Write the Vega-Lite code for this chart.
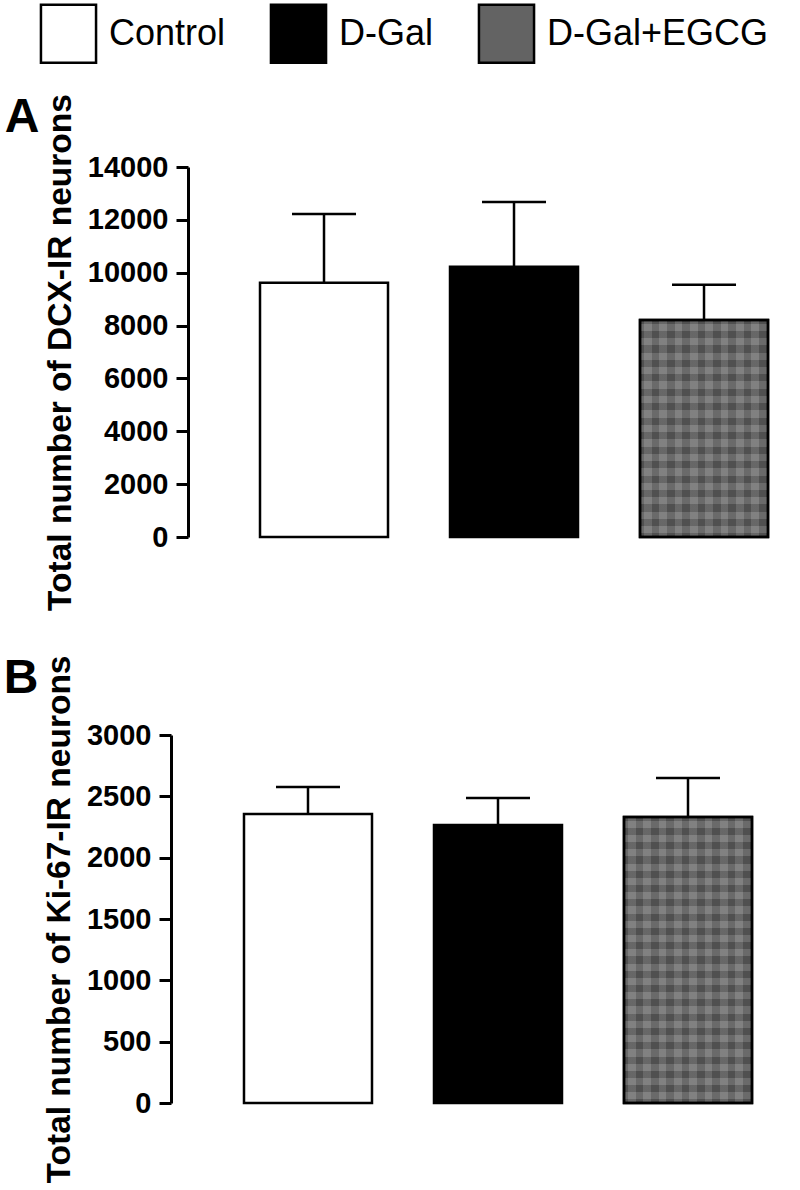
{
  "$schema": "https://vega.github.io/schema/vega-lite/v6.json",
  "padding": {"left": 3, "top": 3, "right": 0, "bottom": 0},
  "background": "white",
  "datasets": {
    "dcx": [
      {"group": "Control", "mean": 9620, "upper": 12220},
      {"group": "D-Gal", "mean": 10230, "upper": 12680},
      {"group": "D-Gal+EGCG", "mean": 8210, "upper": 9540}
    ],
    "ki67": [
      {"group": "Control", "mean": 2356, "upper": 2576},
      {"group": "D-Gal", "mean": 2266, "upper": 2486},
      {"group": "D-Gal+EGCG", "mean": 2331, "upper": 2649}
    ]
  },
  "spacing": 44,
  "vconcat": [
    {
      "width": 610,
      "height": 370,
      "title": {"text": "A", "orient": "left", "anchor": "end", "angle": 0, "frame": "bounds", "fontSize": 48, "fontWeight": "bold", "font": "Liberation Sans", "color": "black", "align": "left", "baseline": "top", "offset": 4},
      "data": {"name": "dcx"},
      "encoding": {
        "x": {"field": "group", "type": "nominal", "sort": null, "axis": null,
              "scale": {"domain": ["Control", "D-Gal", "D-Gal+EGCG"], "paddingInner": 0.3263, "paddingOuter": 0.2684, "align": 0.706}}
      },
      "layer": [
        {"mark": {"type": "rule", "strokeWidth": 2.5, "color": "black"},
         "encoding": {"y": {"field": "mean", "type": "quantitative"}, "y2": {"field": "upper"}}},
        {"mark": {"type": "tick", "size": 64, "thickness": 2.5, "color": "black", "opacity": 1},
         "encoding": {"y": {"field": "upper", "type": "quantitative"}}},
        {"mark": {"type": "bar", "stroke": "black", "strokeWidth": 2.5, "opacity": 1},
         "encoding": {
           "y": {"field": "mean", "type": "quantitative", "scale": {"domain": [0, 14000], "nice": false},
                 "axis": {"values": [0, 2000, 4000, 6000, 8000, 10000, 12000, 14000], "format": "d", "title": "Total number of DCX-IR neurons"}},
           "fill": {"field": "group", "type": "nominal", "sort": null,
                    "scale": {"domain": ["Control", "D-Gal", "D-Gal+EGCG"], "range": ["#ffffff", "#000000", "#636363"]},
                    "legend": {"title": null}}
         }},
        {"transform": [{"filter": "datum.group === 'D-Gal+EGCG'"}],
         "mark": {"type": "bar", "strokeWidth": 0, "opacity": 1, "fill": {"gradient": "linear", "x1": 0, "x2": 1, "y1": 0, "y2": 0, "stops": [
        {"offset": 0, "color": "rgba(0,0,0,0.1)"}, {"offset": 0.03, "color": "rgba(0,0,0,0.1)"},
        {"offset": 0.03, "color": "rgba(255,255,255,0.1)"}, {"offset": 0.09, "color": "rgba(255,255,255,0.1)"},
        {"offset": 0.09, "color": "rgba(0,0,0,0.1)"}, {"offset": 0.15, "color": "rgba(0,0,0,0.1)"},
        {"offset": 0.15, "color": "rgba(255,255,255,0.1)"}, {"offset": 0.21, "color": "rgba(255,255,255,0.1)"},
        {"offset": 0.21, "color": "rgba(0,0,0,0.1)"}, {"offset": 0.27, "color": "rgba(0,0,0,0.1)"},
        {"offset": 0.27, "color": "rgba(255,255,255,0.1)"}, {"offset": 0.33, "color": "rgba(255,255,255,0.1)"},
        {"offset": 0.33, "color": "rgba(0,0,0,0.1)"}, {"offset": 0.39, "color": "rgba(0,0,0,0.1)"},
        {"offset": 0.39, "color": "rgba(255,255,255,0.1)"}, {"offset": 0.45, "color": "rgba(255,255,255,0.1)"},
        {"offset": 0.45, "color": "rgba(0,0,0,0.1)"}, {"offset": 0.51, "color": "rgba(0,0,0,0.1)"},
        {"offset": 0.51, "color": "rgba(255,255,255,0.1)"}, {"offset": 0.57, "color": "rgba(255,255,255,0.1)"},
        {"offset": 0.57, "color": "rgba(0,0,0,0.1)"}, {"offset": 0.63, "color": "rgba(0,0,0,0.1)"},
        {"offset": 0.63, "color": "rgba(255,255,255,0.1)"}, {"offset": 0.69, "color": "rgba(255,255,255,0.1)"},
        {"offset": 0.69, "color": "rgba(0,0,0,0.1)"}, {"offset": 0.75, "color": "rgba(0,0,0,0.1)"},
        {"offset": 0.75, "color": "rgba(255,255,255,0.1)"}, {"offset": 0.81, "color": "rgba(255,255,255,0.1)"},
        {"offset": 0.81, "color": "rgba(0,0,0,0.1)"}, {"offset": 0.87, "color": "rgba(0,0,0,0.1)"},
        {"offset": 0.87, "color": "rgba(255,255,255,0.1)"}, {"offset": 0.93, "color": "rgba(255,255,255,0.1)"},
        {"offset": 0.93, "color": "rgba(0,0,0,0.1)"}, {"offset": 1, "color": "rgba(0,0,0,0.1)"}
      ]}},
         "encoding": {"y": {"field": "mean", "type": "quantitative"}}},
        {"transform": [{"filter": "datum.group === 'D-Gal+EGCG'"}],
         "mark": {"type": "bar", "stroke": "black", "strokeWidth": 2.5, "opacity": 1, "fill": {"gradient": "linear", "x1": 0, "x2": 0, "y1": 0, "y2": 1, "stops": [
        {"offset": 0, "color": "rgba(0,0,0,0.1)"}, {"offset": 0.0167, "color": "rgba(0,0,0,0.1)"},
        {"offset": 0.0167, "color": "rgba(255,255,255,0.1)"}, {"offset": 0.05, "color": "rgba(255,255,255,0.1)"},
        {"offset": 0.05, "color": "rgba(0,0,0,0.1)"}, {"offset": 0.0833, "color": "rgba(0,0,0,0.1)"},
        {"offset": 0.0833, "color": "rgba(255,255,255,0.1)"}, {"offset": 0.1167, "color": "rgba(255,255,255,0.1)"},
        {"offset": 0.1167, "color": "rgba(0,0,0,0.1)"}, {"offset": 0.15, "color": "rgba(0,0,0,0.1)"},
        {"offset": 0.15, "color": "rgba(255,255,255,0.1)"}, {"offset": 0.1833, "color": "rgba(255,255,255,0.1)"},
        {"offset": 0.1833, "color": "rgba(0,0,0,0.1)"}, {"offset": 0.2167, "color": "rgba(0,0,0,0.1)"},
        {"offset": 0.2167, "color": "rgba(255,255,255,0.1)"}, {"offset": 0.25, "color": "rgba(255,255,255,0.1)"},
        {"offset": 0.25, "color": "rgba(0,0,0,0.1)"}, {"offset": 0.2833, "color": "rgba(0,0,0,0.1)"},
        {"offset": 0.2833, "color": "rgba(255,255,255,0.1)"}, {"offset": 0.3167, "color": "rgba(255,255,255,0.1)"},
        {"offset": 0.3167, "color": "rgba(0,0,0,0.1)"}, {"offset": 0.35, "color": "rgba(0,0,0,0.1)"},
        {"offset": 0.35, "color": "rgba(255,255,255,0.1)"}, {"offset": 0.3833, "color": "rgba(255,255,255,0.1)"},
        {"offset": 0.3833, "color": "rgba(0,0,0,0.1)"}, {"offset": 0.4167, "color": "rgba(0,0,0,0.1)"},
        {"offset": 0.4167, "color": "rgba(255,255,255,0.1)"}, {"offset": 0.45, "color": "rgba(255,255,255,0.1)"},
        {"offset": 0.45, "color": "rgba(0,0,0,0.1)"}, {"offset": 0.4833, "color": "rgba(0,0,0,0.1)"},
        {"offset": 0.4833, "color": "rgba(255,255,255,0.1)"}, {"offset": 0.5167, "color": "rgba(255,255,255,0.1)"},
        {"offset": 0.5167, "color": "rgba(0,0,0,0.1)"}, {"offset": 0.55, "color": "rgba(0,0,0,0.1)"},
        {"offset": 0.55, "color": "rgba(255,255,255,0.1)"}, {"offset": 0.5833, "color": "rgba(255,255,255,0.1)"},
        {"offset": 0.5833, "color": "rgba(0,0,0,0.1)"}, {"offset": 0.6167, "color": "rgba(0,0,0,0.1)"},
        {"offset": 0.6167, "color": "rgba(255,255,255,0.1)"}, {"offset": 0.65, "color": "rgba(255,255,255,0.1)"},
        {"offset": 0.65, "color": "rgba(0,0,0,0.1)"}, {"offset": 0.6833, "color": "rgba(0,0,0,0.1)"},
        {"offset": 0.6833, "color": "rgba(255,255,255,0.1)"}, {"offset": 0.7167, "color": "rgba(255,255,255,0.1)"},
        {"offset": 0.7167, "color": "rgba(0,0,0,0.1)"}, {"offset": 0.75, "color": "rgba(0,0,0,0.1)"},
        {"offset": 0.75, "color": "rgba(255,255,255,0.1)"}, {"offset": 0.7833, "color": "rgba(255,255,255,0.1)"},
        {"offset": 0.7833, "color": "rgba(0,0,0,0.1)"}, {"offset": 0.8167, "color": "rgba(0,0,0,0.1)"},
        {"offset": 0.8167, "color": "rgba(255,255,255,0.1)"}, {"offset": 0.85, "color": "rgba(255,255,255,0.1)"},
        {"offset": 0.85, "color": "rgba(0,0,0,0.1)"}, {"offset": 0.8833, "color": "rgba(0,0,0,0.1)"},
        {"offset": 0.8833, "color": "rgba(255,255,255,0.1)"}, {"offset": 0.9167, "color": "rgba(255,255,255,0.1)"},
        {"offset": 0.9167, "color": "rgba(0,0,0,0.1)"}, {"offset": 0.95, "color": "rgba(0,0,0,0.1)"},
        {"offset": 0.95, "color": "rgba(255,255,255,0.1)"}, {"offset": 0.9833, "color": "rgba(255,255,255,0.1)"},
        {"offset": 0.9833, "color": "rgba(0,0,0,0.1)"}, {"offset": 1, "color": "rgba(0,0,0,0.1)"}
      ]}},
         "encoding": {"y": {"field": "mean", "type": "quantitative"}}}
      ]
    },
    {
      "width": 610,
      "height": 368,
      "title": {"text": "B", "orient": "left", "anchor": "end", "angle": 0, "frame": "bounds", "fontSize": 48, "fontWeight": "bold", "font": "Liberation Sans", "color": "black", "align": "left", "baseline": "top", "offset": 4},
      "data": {"name": "ki67"},
      "encoding": {
        "x": {"field": "group", "type": "nominal", "sort": null, "axis": null,
              "scale": {"domain": ["Control", "D-Gal", "D-Gal+EGCG"], "paddingInner": 0.3263, "paddingOuter": 0.2684, "align": 0.549}}
      },
      "layer": [
        {"mark": {"type": "rule", "strokeWidth": 2.5, "color": "black"},
         "encoding": {"y": {"field": "mean", "type": "quantitative"}, "y2": {"field": "upper"}}},
        {"mark": {"type": "tick", "size": 64, "thickness": 2.5, "color": "black", "opacity": 1},
         "encoding": {"y": {"field": "upper", "type": "quantitative"}}},
        {"mark": {"type": "bar", "stroke": "black", "strokeWidth": 2.5, "opacity": 1},
         "encoding": {
           "y": {"field": "mean", "type": "quantitative", "scale": {"domain": [0, 3000], "nice": false},
                 "axis": {"values": [0, 500, 1000, 1500, 2000, 2500, 3000], "format": "d", "offset": 17, "title": "Total number of Ki-67-IR neurons"}},
           "fill": {"field": "group", "type": "nominal", "sort": null,
                    "scale": {"domain": ["Control", "D-Gal", "D-Gal+EGCG"], "range": ["#ffffff", "#000000", "#636363"]},
                    "legend": {"title": null}}
         }},
        {"transform": [{"filter": "datum.group === 'D-Gal+EGCG'"}],
         "mark": {"type": "bar", "strokeWidth": 0, "opacity": 1, "fill": {"gradient": "linear", "x1": 0, "x2": 1, "y1": 0, "y2": 0, "stops": [
        {"offset": 0, "color": "rgba(0,0,0,0.1)"}, {"offset": 0.03, "color": "rgba(0,0,0,0.1)"},
        {"offset": 0.03, "color": "rgba(255,255,255,0.1)"}, {"offset": 0.09, "color": "rgba(255,255,255,0.1)"},
        {"offset": 0.09, "color": "rgba(0,0,0,0.1)"}, {"offset": 0.15, "color": "rgba(0,0,0,0.1)"},
        {"offset": 0.15, "color": "rgba(255,255,255,0.1)"}, {"offset": 0.21, "color": "rgba(255,255,255,0.1)"},
        {"offset": 0.21, "color": "rgba(0,0,0,0.1)"}, {"offset": 0.27, "color": "rgba(0,0,0,0.1)"},
        {"offset": 0.27, "color": "rgba(255,255,255,0.1)"}, {"offset": 0.33, "color": "rgba(255,255,255,0.1)"},
        {"offset": 0.33, "color": "rgba(0,0,0,0.1)"}, {"offset": 0.39, "color": "rgba(0,0,0,0.1)"},
        {"offset": 0.39, "color": "rgba(255,255,255,0.1)"}, {"offset": 0.45, "color": "rgba(255,255,255,0.1)"},
        {"offset": 0.45, "color": "rgba(0,0,0,0.1)"}, {"offset": 0.51, "color": "rgba(0,0,0,0.1)"},
        {"offset": 0.51, "color": "rgba(255,255,255,0.1)"}, {"offset": 0.57, "color": "rgba(255,255,255,0.1)"},
        {"offset": 0.57, "color": "rgba(0,0,0,0.1)"}, {"offset": 0.63, "color": "rgba(0,0,0,0.1)"},
        {"offset": 0.63, "color": "rgba(255,255,255,0.1)"}, {"offset": 0.69, "color": "rgba(255,255,255,0.1)"},
        {"offset": 0.69, "color": "rgba(0,0,0,0.1)"}, {"offset": 0.75, "color": "rgba(0,0,0,0.1)"},
        {"offset": 0.75, "color": "rgba(255,255,255,0.1)"}, {"offset": 0.81, "color": "rgba(255,255,255,0.1)"},
        {"offset": 0.81, "color": "rgba(0,0,0,0.1)"}, {"offset": 0.87, "color": "rgba(0,0,0,0.1)"},
        {"offset": 0.87, "color": "rgba(255,255,255,0.1)"}, {"offset": 0.93, "color": "rgba(255,255,255,0.1)"},
        {"offset": 0.93, "color": "rgba(0,0,0,0.1)"}, {"offset": 1, "color": "rgba(0,0,0,0.1)"}
      ]}},
         "encoding": {"y": {"field": "mean", "type": "quantitative"}}},
        {"transform": [{"filter": "datum.group === 'D-Gal+EGCG'"}],
         "mark": {"type": "bar", "stroke": "black", "strokeWidth": 2.5, "opacity": 1, "fill": {"gradient": "linear", "x1": 0, "x2": 0, "y1": 0, "y2": 1, "stops": [
        {"offset": 0, "color": "rgba(0,0,0,0.1)"}, {"offset": 0.0125, "color": "rgba(0,0,0,0.1)"},
        {"offset": 0.0125, "color": "rgba(255,255,255,0.1)"}, {"offset": 0.0375, "color": "rgba(255,255,255,0.1)"},
        {"offset": 0.0375, "color": "rgba(0,0,0,0.1)"}, {"offset": 0.0625, "color": "rgba(0,0,0,0.1)"},
        {"offset": 0.0625, "color": "rgba(255,255,255,0.1)"}, {"offset": 0.0875, "color": "rgba(255,255,255,0.1)"},
        {"offset": 0.0875, "color": "rgba(0,0,0,0.1)"}, {"offset": 0.1125, "color": "rgba(0,0,0,0.1)"},
        {"offset": 0.1125, "color": "rgba(255,255,255,0.1)"}, {"offset": 0.1375, "color": "rgba(255,255,255,0.1)"},
        {"offset": 0.1375, "color": "rgba(0,0,0,0.1)"}, {"offset": 0.1625, "color": "rgba(0,0,0,0.1)"},
        {"offset": 0.1625, "color": "rgba(255,255,255,0.1)"}, {"offset": 0.1875, "color": "rgba(255,255,255,0.1)"},
        {"offset": 0.1875, "color": "rgba(0,0,0,0.1)"}, {"offset": 0.2125, "color": "rgba(0,0,0,0.1)"},
        {"offset": 0.2125, "color": "rgba(255,255,255,0.1)"}, {"offset": 0.2375, "color": "rgba(255,255,255,0.1)"},
        {"offset": 0.2375, "color": "rgba(0,0,0,0.1)"}, {"offset": 0.2625, "color": "rgba(0,0,0,0.1)"},
        {"offset": 0.2625, "color": "rgba(255,255,255,0.1)"}, {"offset": 0.2875, "color": "rgba(255,255,255,0.1)"},
        {"offset": 0.2875, "color": "rgba(0,0,0,0.1)"}, {"offset": 0.3125, "color": "rgba(0,0,0,0.1)"},
        {"offset": 0.3125, "color": "rgba(255,255,255,0.1)"}, {"offset": 0.3375, "color": "rgba(255,255,255,0.1)"},
        {"offset": 0.3375, "color": "rgba(0,0,0,0.1)"}, {"offset": 0.3625, "color": "rgba(0,0,0,0.1)"},
        {"offset": 0.3625, "color": "rgba(255,255,255,0.1)"}, {"offset": 0.3875, "color": "rgba(255,255,255,0.1)"},
        {"offset": 0.3875, "color": "rgba(0,0,0,0.1)"}, {"offset": 0.4125, "color": "rgba(0,0,0,0.1)"},
        {"offset": 0.4125, "color": "rgba(255,255,255,0.1)"}, {"offset": 0.4375, "color": "rgba(255,255,255,0.1)"},
        {"offset": 0.4375, "color": "rgba(0,0,0,0.1)"}, {"offset": 0.4625, "color": "rgba(0,0,0,0.1)"},
        {"offset": 0.4625, "color": "rgba(255,255,255,0.1)"}, {"offset": 0.4875, "color": "rgba(255,255,255,0.1)"},
        {"offset": 0.4875, "color": "rgba(0,0,0,0.1)"}, {"offset": 0.5125, "color": "rgba(0,0,0,0.1)"},
        {"offset": 0.5125, "color": "rgba(255,255,255,0.1)"}, {"offset": 0.5375, "color": "rgba(255,255,255,0.1)"},
        {"offset": 0.5375, "color": "rgba(0,0,0,0.1)"}, {"offset": 0.5625, "color": "rgba(0,0,0,0.1)"},
        {"offset": 0.5625, "color": "rgba(255,255,255,0.1)"}, {"offset": 0.5875, "color": "rgba(255,255,255,0.1)"},
        {"offset": 0.5875, "color": "rgba(0,0,0,0.1)"}, {"offset": 0.6125, "color": "rgba(0,0,0,0.1)"},
        {"offset": 0.6125, "color": "rgba(255,255,255,0.1)"}, {"offset": 0.6375, "color": "rgba(255,255,255,0.1)"},
        {"offset": 0.6375, "color": "rgba(0,0,0,0.1)"}, {"offset": 0.6625, "color": "rgba(0,0,0,0.1)"},
        {"offset": 0.6625, "color": "rgba(255,255,255,0.1)"}, {"offset": 0.6875, "color": "rgba(255,255,255,0.1)"},
        {"offset": 0.6875, "color": "rgba(0,0,0,0.1)"}, {"offset": 0.7125, "color": "rgba(0,0,0,0.1)"},
        {"offset": 0.7125, "color": "rgba(255,255,255,0.1)"}, {"offset": 0.7375, "color": "rgba(255,255,255,0.1)"},
        {"offset": 0.7375, "color": "rgba(0,0,0,0.1)"}, {"offset": 0.7625, "color": "rgba(0,0,0,0.1)"},
        {"offset": 0.7625, "color": "rgba(255,255,255,0.1)"}, {"offset": 0.7875, "color": "rgba(255,255,255,0.1)"},
        {"offset": 0.7875, "color": "rgba(0,0,0,0.1)"}, {"offset": 0.8125, "color": "rgba(0,0,0,0.1)"},
        {"offset": 0.8125, "color": "rgba(255,255,255,0.1)"}, {"offset": 0.8375, "color": "rgba(255,255,255,0.1)"},
        {"offset": 0.8375, "color": "rgba(0,0,0,0.1)"}, {"offset": 0.8625, "color": "rgba(0,0,0,0.1)"},
        {"offset": 0.8625, "color": "rgba(255,255,255,0.1)"}, {"offset": 0.8875, "color": "rgba(255,255,255,0.1)"},
        {"offset": 0.8875, "color": "rgba(0,0,0,0.1)"}, {"offset": 0.9125, "color": "rgba(0,0,0,0.1)"},
        {"offset": 0.9125, "color": "rgba(255,255,255,0.1)"}, {"offset": 0.9375, "color": "rgba(255,255,255,0.1)"},
        {"offset": 0.9375, "color": "rgba(0,0,0,0.1)"}, {"offset": 0.9625, "color": "rgba(0,0,0,0.1)"},
        {"offset": 0.9625, "color": "rgba(255,255,255,0.1)"}, {"offset": 0.9875, "color": "rgba(255,255,255,0.1)"},
        {"offset": 0.9875, "color": "rgba(0,0,0,0.1)"}, {"offset": 1, "color": "rgba(0,0,0,0.1)"}
      ]}},
         "encoding": {"y": {"field": "mean", "type": "quantitative"}}}
      ]
    }
  ],
  "config": {
    "view": {"stroke": null},
    "font": "Liberation Sans",
    "axis": {
      "domainColor": "black", "domainWidth": 3, "tickColor": "black", "tickWidth": 3, "tickSize": 12,
      "labelFont": "Liberation Sans", "labelFontWeight": "bold", "labelFontSize": 29, "labelColor": "black", "labelPadding": 8,
      "titleFont": "Liberation Sans", "titleFontWeight": "bold", "titleFontSize": 33.5, "titleColor": "black", "titlePadding": 10, "grid": false
    },
    "legend": {
      "orient": "none", "legendX": -150, "legendY": -164, "direction": "horizontal",
      "symbolType": "M-0.95,-1H0.95V1H-0.95Z", "symbolSize": 3364, "symbolStrokeColor": "black", "symbolStrokeWidth": 2.5, "symbolOpacity": 1,
      "labelFont": "Liberation Sans", "labelFontSize": 36, "labelColor": "black", "labelOffset": 10, "labelLimit": 0, "columnPadding": 39
    }
  }
}
